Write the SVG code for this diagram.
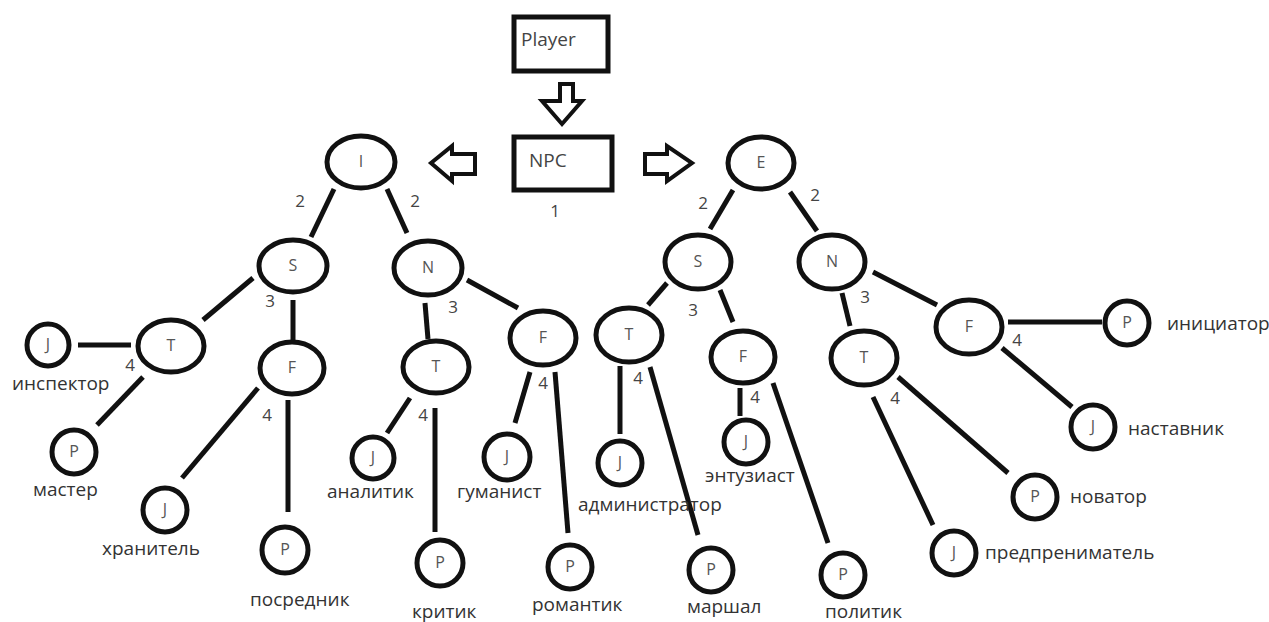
<svg xmlns="http://www.w3.org/2000/svg" width="1269" height="622" viewBox="0 0 1269 622">
<style>
.n{fill:#fff;stroke:#111;stroke-width:5}
.b{fill:#fff;stroke:#111;stroke-width:5}
.a{fill:#fff;stroke:#111;stroke-width:4;stroke-linejoin:miter}
.c line{stroke:#111;stroke-width:5;stroke-linecap:butt}
.t{font-family:"Open Sans","DejaVu Sans",sans-serif;font-size:16px;fill:#555;text-anchor:middle}
.l{font-family:"Open Sans","DejaVu Sans",sans-serif;font-size:19px;fill:#333}
.d{font-family:"Open Sans","DejaVu Sans",sans-serif;font-size:17px;fill:#444;text-anchor:middle}
</style>
<rect width="1269" height="622" fill="#fff"/>
<g id="connectors" class="c">
<line x1="334" y1="189" x2="311" y2="237"/>
<line x1="387" y1="189" x2="407" y2="233"/>
<line x1="253" y1="278" x2="203" y2="320"/>
<line x1="293" y1="300" x2="293" y2="340"/>
<line x1="78" y1="345" x2="131" y2="345"/>
<line x1="143" y1="377" x2="97" y2="425"/>
<line x1="258" y1="388" x2="182" y2="478"/>
<line x1="288" y1="400" x2="288" y2="512"/>
<line x1="425" y1="303" x2="428" y2="339"/>
<line x1="467" y1="280" x2="518" y2="308"/>
<line x1="410" y1="398" x2="387" y2="433"/>
<line x1="435" y1="408" x2="435" y2="532"/>
<line x1="530" y1="372" x2="515" y2="423"/>
<line x1="555" y1="372" x2="568" y2="533"/>
<line x1="733" y1="190" x2="710" y2="229"/>
<line x1="790" y1="192" x2="817" y2="231"/>
<line x1="667" y1="283" x2="648" y2="305"/>
<line x1="720" y1="290" x2="733" y2="322"/>
<line x1="842" y1="293" x2="850" y2="326"/>
<line x1="873" y1="272" x2="937" y2="305"/>
<line x1="620" y1="366" x2="620" y2="434"/>
<line x1="650" y1="367" x2="698" y2="535"/>
<line x1="740" y1="388" x2="740" y2="416"/>
<line x1="773" y1="383" x2="828" y2="543"/>
<line x1="873" y1="397" x2="933" y2="525"/>
<line x1="898" y1="377" x2="1008" y2="473"/>
<line x1="1008" y1="322" x2="1102" y2="322"/>
<line x1="1002" y1="348" x2="1072" y2="407"/>
<polygon class="a" points="560,84 573,84 573,101 582,101 562,124 542,101 560,101"/>
<polygon class="a" points="475,154 452,154 452,146 431,163 452,181 452,174 475,174"/>
<polygon class="a" points="645,154 667,154 667,146 692,163 667,181 667,174 645,174"/>
</g>
<g id="player"><rect class="b" x="514" y="17" width="94" height="54"/><text class="l" x="521" y="46" style="fill:#444">Player</text></g>
<g id="npc"><rect class="b" x="514" y="137" width="98" height="53"/><text class="l" x="529" y="167" style="fill:#444">NPC</text><text class="d" x="555" y="217">1</text></g>
<g id="n-I"><ellipse class="n" cx="361" cy="162" rx="34" ry="26"/><text class="t" x="361" y="167">I</text><text class="d" x="300" y="207">2</text><text class="d" x="415" y="207">2</text></g>
<g id="n-IS"><ellipse class="n" cx="293" cy="266" rx="34" ry="26"/><text class="t" x="293" y="271">S</text><text class="d" x="270" y="307">3</text></g>
<g id="n-IN"><ellipse class="n" cx="428" cy="268" rx="34" ry="27"/><text class="t" x="428" y="273">N</text><text class="d" x="453" y="313">3</text></g>
<g id="n-IST"><ellipse class="n" cx="171" cy="346" rx="33" ry="26"/><text class="t" x="171" y="351">T</text><text class="d" x="130" y="371">4</text></g>
<g id="n-ISF"><ellipse class="n" cx="292" cy="368" rx="32" ry="26"/><text class="t" x="292" y="373">F</text><text class="d" x="267" y="421">4</text></g>
<g id="n-INT"><ellipse class="n" cx="436" cy="367" rx="33" ry="26"/><text class="t" x="436" y="372">T</text><text class="d" x="423" y="421">4</text></g>
<g id="n-INF"><ellipse class="n" cx="543" cy="338" rx="33" ry="27"/><text class="t" x="543" y="343">F</text><text class="d" x="543" y="389">4</text></g>
<g id="n-ISTJ"><circle class="n" cx="48" cy="345" r="21"/><text class="t" x="48" y="350">J</text><text class="l" x="12" y="390">инспектор</text></g>
<g id="n-ISTP"><circle class="n" cx="74" cy="452" r="22"/><text class="t" x="74" y="457">P</text><text class="l" x="33" y="496">мастер</text></g>
<g id="n-ISFJ"><circle class="n" cx="165" cy="510" r="22"/><text class="t" x="165" y="515">J</text><text class="l" x="102" y="555">хранитель</text></g>
<g id="n-ISFP"><circle class="n" cx="285" cy="550" r="23"/><text class="t" x="285" y="555">P</text><text class="l" x="250" y="606">посредник</text></g>
<g id="n-INTJ"><circle class="n" cx="373" cy="458" r="21"/><text class="t" x="373" y="463">J</text><text class="l" x="327" y="498">аналитик</text></g>
<g id="n-INTP"><circle class="n" cx="440" cy="563" r="23"/><text class="t" x="440" y="568">P</text><text class="l" x="412" y="618">критик</text></g>
<g id="n-INFJ"><circle class="n" cx="507" cy="457" r="23"/><text class="t" x="507" y="462">J</text><text class="l" x="457" y="498">гуманист</text></g>
<g id="n-INFP"><circle class="n" cx="570" cy="567" r="22"/><text class="t" x="570" y="572">P</text><text class="l" x="532" y="611">романтик</text></g>
<g id="n-E"><ellipse class="n" cx="761" cy="163" rx="33" ry="26"/><text class="t" x="761" y="168">E</text><text class="d" x="703" y="209">2</text><text class="d" x="815" y="201">2</text></g>
<g id="n-ES"><ellipse class="n" cx="698" cy="262" rx="33" ry="27"/><text class="t" x="698" y="267">S</text><text class="d" x="693" y="316">3</text></g>
<g id="n-EN"><ellipse class="n" cx="832" cy="262" rx="33" ry="27"/><text class="t" x="832" y="267">N</text><text class="d" x="865" y="303">3</text></g>
<g id="n-EST"><ellipse class="n" cx="629" cy="335" rx="33" ry="27"/><text class="t" x="629" y="340">T</text><text class="d" x="638" y="384">4</text></g>
<g id="n-ESF"><ellipse class="n" cx="743" cy="357" rx="32" ry="26"/><text class="t" x="743" y="362">F</text><text class="d" x="755" y="403">4</text></g>
<g id="n-ENT"><ellipse class="n" cx="864" cy="358" rx="33" ry="27"/><text class="t" x="864" y="363">T</text><text class="d" x="895" y="404">4</text></g>
<g id="n-ENF"><ellipse class="n" cx="969" cy="327" rx="33" ry="27"/><text class="t" x="969" y="332">F</text><text class="d" x="1017" y="346">4</text></g>
<g id="n-ESTJ"><circle class="n" cx="620" cy="463" r="22"/><text class="t" x="620" y="468">J</text><text class="l" x="578" y="511">администратор</text></g>
<g id="n-ESTP"><circle class="n" cx="711" cy="570" r="22"/><text class="t" x="711" y="575">P</text><text class="l" x="687" y="613">маршал</text></g>
<g id="n-ESFJ"><circle class="n" cx="746" cy="442" r="22"/><text class="t" x="746" y="447">J</text><text class="l" x="705" y="482">энтузиаст</text></g>
<g id="n-ESFP"><circle class="n" cx="843" cy="575" r="22"/><text class="t" x="843" y="580">P</text><text class="l" x="825" y="618">политик</text></g>
<g id="n-ENTJ"><circle class="n" cx="954" cy="553" r="22"/><text class="t" x="954" y="558">J</text><text class="l" x="985" y="559">предпрениматель</text></g>
<g id="n-ENTP"><circle class="n" cx="1035" cy="497" r="22"/><text class="t" x="1035" y="502">P</text><text class="l" x="1070" y="503">новатор</text></g>
<g id="n-ENFJ"><circle class="n" cx="1093" cy="427" r="22"/><text class="t" x="1093" y="432">J</text><text class="l" x="1128" y="435">наставник</text></g>
<g id="n-ENFP"><circle class="n" cx="1127" cy="323" r="22"/><text class="t" x="1127" y="328">P</text><text class="l" x="1167" y="330">инициатор</text></g>
</svg>
